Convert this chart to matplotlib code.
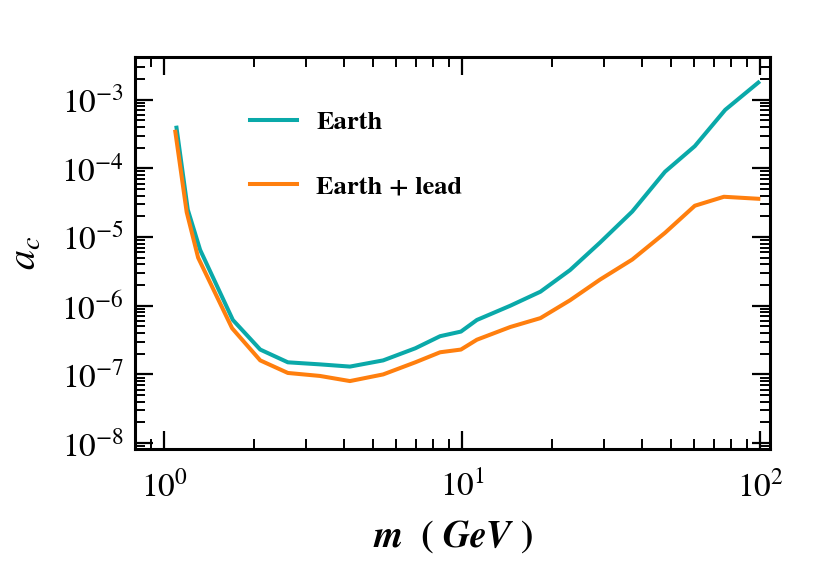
import numpy as np
import matplotlib
matplotlib.use("Agg")
import matplotlib.pyplot as plt
from matplotlib.ticker import LogLocator, NullFormatter

plt.rcParams["font.family"] = "STIXGeneral"
plt.rcParams["mathtext.fontset"] = "stix"

# values
mass_earth = [1.10, 1.20, 1.32, 1.70, 2.10, 2.60, 3.33, 4.20, 5.43, 6.96, 8.43, 9.9,
              11.2, 14.5, 18.3, 23.0, 29.0, 37.2, 47.9, 60.3, 76.3, 98.5]
ac_earth = [3.9e-4, 2.5e-5, 6.5e-6, 6.2e-7, 2.3e-7, 1.5e-7, 1.4e-7, 1.3e-7, 1.6e-7, 2.4e-7,
            3.6e-7, 4.2e-7, 6.2e-7, 1.0e-6, 1.6e-6, 3.3e-6, 8.3e-6, 2.35e-5, 8.9e-5, 2.1e-4,
            7.1e-4, 1.77e-3]

mass_lead = [1.09, 1.19, 1.30, 1.69, 2.10, 2.60, 3.33, 4.20, 5.43, 6.96, 8.43, 9.9,
             11.2, 14.5, 18.3, 23.0, 29.0, 37.2, 47.9, 60.3, 75.5, 98.5]
ac_lead = [3.4e-4, 2.3e-5, 5.0e-6, 4.7e-7, 1.6e-7, 1.05e-7, 9.5e-8, 8.0e-8, 1.0e-7, 1.5e-7,
           2.1e-7, 2.3e-7, 3.2e-7, 4.9e-7, 6.6e-7, 1.2e-6, 2.4e-6, 4.7e-6, 1.15e-5, 2.85e-5,
           3.85e-5, 3.6e-5]

fig = plt.figure(figsize=(8.3, 5.62), dpi=100)
ax = fig.add_axes([0.163, 0.201, 0.765, 0.698])

ax.plot(mass_earth, ac_earth, color="#0aa9a9", lw=2.9, label="Earth")
ax.plot(mass_lead, ac_lead, color="#ff7f0e", lw=2.9, label="Earth + lead")

ax.set_xscale("log")
ax.set_yscale("log")
ax.set_xlim(0.8, 108)
ax.set_ylim(8.2e-9, 4.2e-3)

ax.xaxis.set_minor_locator(LogLocator(base=10, subs=np.arange(2, 10), numticks=20))
ax.yaxis.set_minor_locator(LogLocator(base=10, subs=np.arange(2, 10), numticks=20))
ax.yaxis.set_major_locator(LogLocator(base=10, numticks=20))
ax.xaxis.set_minor_formatter(NullFormatter())
ax.yaxis.set_minor_formatter(NullFormatter())

ax.tick_params(which="both", direction="in", top=True, right=True, labelsize=24)
ax.tick_params(which="major", length=13, width=1.6, pad=8)
ax.tick_params(axis="x", which="major", pad=16)
ax.tick_params(which="minor", length=7, width=1.4)
for s in ax.spines.values():
    s.set_linewidth(2.2)

ax.set_xlabel(r"$\boldsymbol{m\ \ (\ GeV\ )}$", fontsize=27, labelpad=10)
ax.set_ylabel(r"$\boldsymbol{a_c}$", fontsize=29, labelpad=12)

ax.legend(loc="upper left", frameon=False, prop={"weight": "bold", "size": 19},
          handlelength=1.75, labelspacing=1.55, handletextpad=0.75,
          bbox_to_anchor=(0.144, 0.923))

fig.savefig("out.png", dpi=100)
